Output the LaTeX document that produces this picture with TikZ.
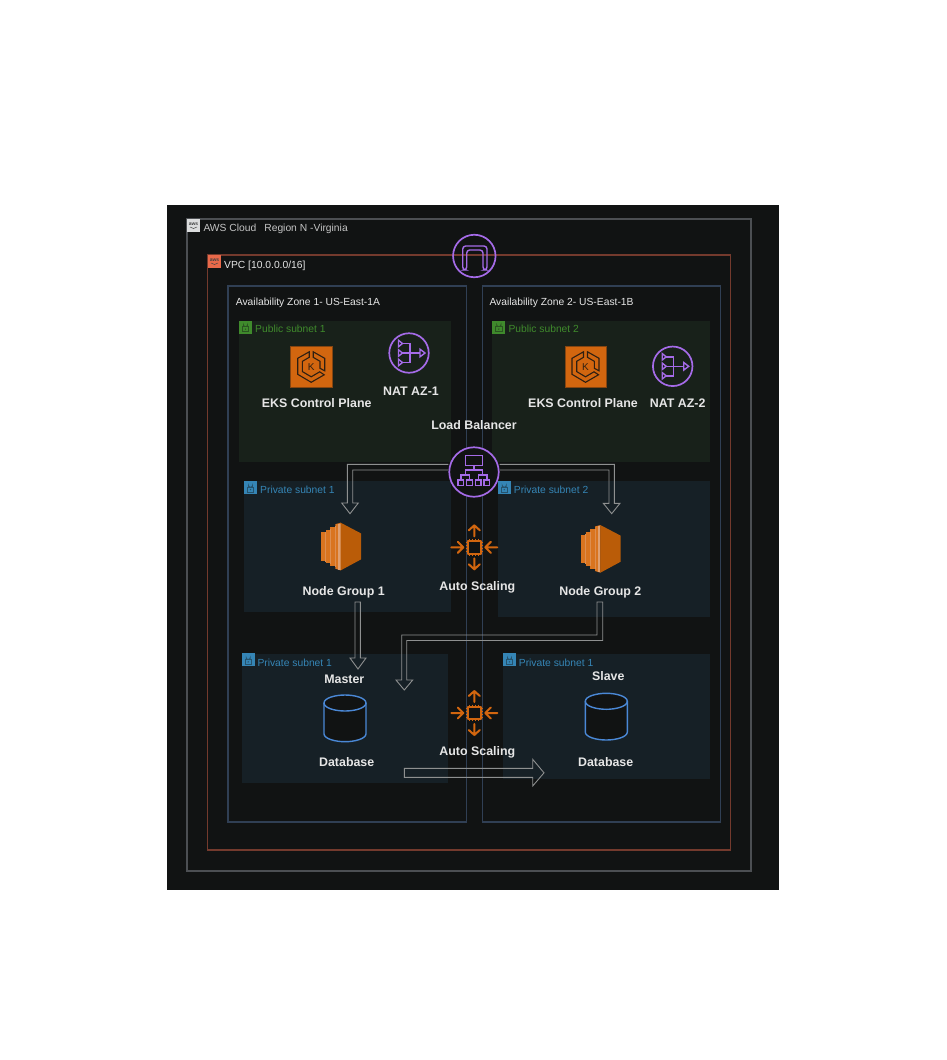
\documentclass[tikz,border=0pt]{standalone}
\usepackage{fontspec}
\setmainfont{Liberation Sans}
\usetikzlibrary{shapes.geometric,calc}
\definecolor{bgdark}{HTML}{111313}
\definecolor{cloudline}{HTML}{4C4F53}
\definecolor{vpcline}{HTML}{743A2D}
\definecolor{azline}{HTML}{303F54}
\definecolor{pubfill}{HTML}{18211A}
\definecolor{privfill}{HTML}{162026}
\definecolor{pubgreen}{HTML}{3F8A2C}
\definecolor{privblue}{HTML}{3585B5}
\definecolor{purp}{HTML}{A56BE8}
\definecolor{orng}{HTML}{D2660F}
\definecolor{ec2main}{HTML}{BA5C08}
\definecolor{ec2strip}{HTML}{D9741F}
\definecolor{ec2light}{HTML}{E0A070}
\definecolor{dbblue}{HTML}{4A88D6}
\definecolor{txtw}{HTML}{E6E6E6}
\definecolor{hollowc}{HTML}{8E9090}
\definecolor{vpcbadge}{HTML}{E8694A}
\tikzset{
  x=1pt,y=-1pt,
  zonebox/.style={draw,line width=1.2pt},
  boldlbl/.style={font=\fontsize{12.4}{14}\selectfont\bfseries,text=txtw,inner sep=0pt,text height=1.6ex,text depth=0.2ex,yshift=-0.6pt},
  smalllbl/.style={font=\fontsize{10.3}{12}\selectfont,inner sep=0pt,anchor=west,text height=1.6ex,text depth=0.2ex},
  purpring/.style={circle,draw=purp,line width=1.7pt,inner sep=0pt},
  purpline/.style={draw=purp,line width=1.4pt},
  hollowarrow/.style={draw=hollowc,line width=0.9pt,line join=miter},
  chipline/.style={draw=orng,line width=2pt,line cap=round,line join=round},
}
\newcommand{\lockbadge}[3]{% x,y,colour
  \fill[#3] (#1,#2) rectangle ++(13,13);
  \draw[bgdark!45!#3,line width=0.7pt] (#1+3.2,#2+6) rectangle ++(6.6,5.2);
  \draw[bgdark!45!#3,line width=0.7pt] (#1+4.4,#2+6) -- (#1+4.4,#2+4) arc[start angle=180,end angle=0,radius=2.1] -- (#1+8.6,#2+6);
  \fill[bgdark!45!#3] (#1+6.5,#2+8.6) circle[radius=0.8];
}
\newcommand{\awsbadge}[3]{% x,y,name
  \node[inner sep=0pt,text=bgdark!80!white,font=\fontsize{5}{5}\selectfont\bfseries] (#3) at (#1+6.5,#2+5) {aws};
  \draw[bgdark!80!white,line width=0.5pt] (#1+3,#2+8) .. controls (#1+5,#2+10) and (#1+8,#2+10) .. (#1+10,#2+8);
}
\newcommand{\ekspic}[1]{%
 \begin{scope}[shift={(#1)}]
  \draw[line width=1.1pt,draw=bgdark!85!orng,line join=miter]
    (-2,-15) -- (-13.5,-8.5) -- (-13.5,7.5) -- (0,15.5) -- (13,8) -- (8.5,5)-- (0,10) -- (-8.8,4.8) -- (-8.8,-5.5) -- (-2,-9.5) -- cycle;
  \draw[line width=1.1pt,draw=bgdark!85!orng,line join=miter]
    (2,-15) -- (13.5,-8.5) -- (13.5,4) -- (8.8,1.5) -- (8.8,-5.5) -- (2,-9.5) -- cycle;
  \node[inner sep=0pt,text=bgdark!85!orng,font=\fontsize{10}{10}\selectfont] at (0,0.3) {K};
 \end{scope}}
\newcommand{\natpic}[1]{%
 \begin{scope}[shift={(#1)}]
  \draw[purpline] (-7,-9.5) -- (1,-9.5) -- (1,9.5) -- (-7,9.5);
  \draw[purpline] (-7,0) -- (11,0);
  \foreach \yy in {-9.5,0,9.5} \draw[purpline,line join=miter] (-10.5,\yy-3.2) -- (-6.5,\yy) -- (-10.5,\yy+3.2) -- cycle;
  \draw[purpline,line join=miter] (11,-3.8) -- (16,0) -- (11,3.8) -- cycle;
 \end{scope}}
\newcommand{\ecpic}[1]{%
 \begin{scope}[shift={(#1)}]
  \fill[ec2strip] (0,9.5) rectangle (4.5,38);
  \fill[ec2strip] (4.5,7) rectangle (9,40.5);
  \fill[ec2strip] (9,4) rectangle (14,43.5);
  \fill[ec2strip] (14,1.5) -- (19.5,0) -- (19.5,47.7) -- (14,46) -- cycle;
  \fill[ec2light!60!ec2strip] (4,9) rectangle (4.8,39);
  \fill[ec2light!60!ec2strip] (8.8,6.5) rectangle (9.6,41);
  \fill[ec2light!60!ec2strip] (13.6,3.5) rectangle (14.4,44);
  \fill[ec2light] (17,0.8) rectangle (19.3,47);
  \fill[ec2main] (19.3,0) -- (39.7,10.7) -- (39.7,36.7) -- (19.3,47.7) -- cycle;
 \end{scope}}
\newcommand{\chippic}[1]{%
 \begin{scope}[shift={(#1)}]
  \draw[chipline] (-6.3,-6.3) rectangle (6.3,6.3);
  \foreach \p in {-4.5,-1.5,1.5,4.5} {
    \draw[draw=orng,line width=1pt] (\p,-8.4)--(\p,-6.3) (\p,6.3)--(\p,8.4) (-8.4,\p)--(-6.3,\p) (6.3,\p)--(8.4,\p);
  }
  \draw[chipline] (0,-11) -- (0,-22) (-5.5,-17) -- (0,-22) -- (5.5,-17);
  \draw[chipline] (0,11) -- (0,22) (-5.5,17) -- (0,22) -- (5.5,17);
  \draw[chipline] (-23,0) -- (-11,0) (-16.5,-5.5) -- (-11,0) -- (-16.5,5.5);
  \draw[chipline] (23,0) -- (11,0) (16.5,-5.5) -- (11,0) -- (16.5,5.5);
 \end{scope}}
\newcommand{\dbpic}[2]{% top-left, height
 \begin{scope}[shift={(#1)}]
  \draw[dbblue,fill=bgdark,line width=1.4pt] (0,8) -- (0,#2-8) .. controls (0,#2-3) and (11,#2) .. (21,#2) .. controls (31,#2) and (42,#2-3) .. (42,#2-8) -- (42,8) .. controls (42,3) and (31,0) .. (21,0) .. controls (11,0) and (0,3) .. (0,8) -- cycle;
  \draw[dbblue,line width=1.4pt] (0,8) .. controls (0,13) and (11,16) .. (21,16) .. controls (31,16) and (42,13) .. (42,8);
 \end{scope}}
\begin{document}
\begin{tikzpicture}
\useasboundingbox (0,0) rectangle (946,1060);
\fill[white] (0,0) rectangle (946,1060);
\fill[bgdark] (167,205) rectangle (779,890);
% containers
\draw[zonebox,cloudline] (187,219) rectangle (751,871);
\draw[zonebox,vpcline] (207.7,255) rectangle (730.7,850);
\draw[zonebox,azline] (228,286) rectangle (466.3,822);
\draw[zonebox,azline] (482.3,286) rectangle (720.3,822);
% subnets
\fill[pubfill] (239,321) rectangle (451,462);
\fill[pubfill] (492.3,321) rectangle (710,462);
\fill[privfill] (244,481) rectangle (451,612);
\fill[privfill] (498,481) rectangle (710,617);
\fill[privfill] (242,653.5) rectangle (448,783);
\fill[privfill] (503,653.5) rectangle (710,779);
% badges
\fill[cloudline!20!white] (187,219) rectangle ++(13,13);
\awsbadge{187}{219}{bcloud}
\fill[vpcbadge] (208,255) rectangle ++(13,13);
\awsbadge{208}{255}{bvpc}
\lockbadge{239}{320.5}{pubgreen}
\lockbadge{492.3}{320.5}{pubgreen}
\lockbadge{244}{481}{privblue}
\lockbadge{497.7}{481}{privblue}
\lockbadge{241.7}{653.3}{privblue}
\lockbadge{503}{653.3}{privblue}
% container labels
\node[smalllbl,text=txtw!85!black] (lcloud) at (203.3,228) {AWS Cloud\hspace{8pt}Region N -Virginia};
\node[smalllbl,text=txtw] (lvpc) at (224,264.7) {VPC [10.0.0.0/16]};
\node[smalllbl,text=txtw] (laz1) at (235.7,301.3) {Availability Zone 1- US-East-1A};
\node[smalllbl,text=txtw] (laz2) at (489.3,301.3) {Availability Zone 2- US-East-1B};
\node[smalllbl,text=pubgreen] (lpub1) at (255,329) {Public subnet 1};
\node[smalllbl,text=pubgreen] (lpub2) at (508.3,329) {Public subnet 2};
\node[smalllbl,text=privblue] (lpriv1) at (260,489.7) {Private subnet 1};
\node[smalllbl,text=privblue] (lpriv2) at (513.7,489.7) {Private subnet 2};
\node[smalllbl,text=privblue] (ldb1) at (257.3,662.3) {Private subnet 1};
\node[smalllbl,text=privblue] (ldb2) at (518.7,662.3) {Private subnet 1};
% gateway
\node[purpring,minimum size=42.5pt] (igw) at (474.3,256) {};
\draw[purpline,rounded corners=3pt] (462.7,270) -- (462.7,246) -- (487,246) -- (487,270) -- (483,270) -- (483,250) -- (466.7,250) -- (466.7,270) -- cycle;
% EKS
\node[fill=orng,draw=bgdark!40!orng,minimum size=41.5pt,inner sep=0pt] (eks1) at (311.2,366.8) {};
\node[fill=orng,draw=bgdark!40!orng,minimum size=41.5pt,inner sep=0pt] (eks2) at (585.5,366.8) {};
\ekspic{311.2,366.8}
\ekspic{585.5,366.8}
\node[boldlbl] (teks1) at (316.7,403) {EKS Control Plane};
\node[boldlbl] (teks2) at (583,403) {EKS Control Plane};
% NAT
\node[purpring,minimum size=39.5pt] (nat1) at (409,353) {};
\node[purpring,minimum size=39.5pt] (nat2) at (672.7,366.3) {};
\natpic{409,353}
\natpic{672.7,366.3}
\node[boldlbl] (tnat1) at (411,391) {NAT AZ-1};
\node[boldlbl] (tnat2) at (677.7,403) {NAT AZ-2};
\node[boldlbl] (tlb) at (474,425.3) {Load Balancer};
% EC2
\coordinate (ec1) at (321.3,522.7);
\coordinate (ec2) at (581,525);
\ecpic{ec1}
\ecpic{ec2}
\node[boldlbl] (ng1) at (343.7,591.3) {Node Group 1};
\node[boldlbl] (ng2) at (600.3,591.3) {Node Group 2};
% autoscaling
\chippic{474.3,547.3}
\chippic{474.3,713}
\node[boldlbl] (as1) at (477.3,586) {Auto Scaling};
\node[boldlbl] (as2) at (477.3,751.5) {Auto Scaling};
% db
\dbpic{324,695}{46.7}
\dbpic{585.3,693.3}{46.7}
\node[boldlbl] (master) at (344.3,679.3) {Master};
\node[boldlbl] (slave) at (608.3,675.7) {Slave};
\node[boldlbl] (db1) at (346.7,762) {Database};
\node[boldlbl] (db2) at (605.7,762) {Database};
% load balancer
\node[purpring,fill=bgdark,minimum size=49.5pt] (lb) at (474,472) {};
\begin{scope}[shift={(lb.center)}]
  \draw[purpline] (-8.7,-16.3) rectangle (8.7,-6.3);
  \draw[purpline] (0,-6.3) -- (0,-2) (-8.7,-2) -- (8.7,-2) (-8.7,-2) -- (-8.7,3) (8.7,-2) -- (8.7,3)
     (-13,8) -- (-13,3) -- (-4.5,3) -- (-4.5,8) (13,8) -- (13,3) -- (4.5,3) -- (4.5,8);
  \foreach \xx in {-16,-7.3,1.3,10} \draw[purpline] (\xx,8) rectangle ++(5.7,5.7);
\end{scope}
% connectors (hollow block arrows)
\coordinate (t1) at (350,513.7);
\coordinate (t2) at (611.7,513.7);
\coordinate (t3) at (358,669);
\coordinate (t4) at (404.3,690);
\draw[hollowarrow] (lb.west |- 0,464.3) -- (347.3,464.3) -- (347.3,503) -- (341.7,503) -- (t1) -- (358.3,503) -- (352.7,503) -- (352.7,470) -- (lb.west |- 0,470);
\draw[hollowarrow] (lb.east |- 0,464.3) -- (614.3,464.3) -- (614.3,503.3) -- (620,503.3) -- (t2) -- (603.3,503.3) -- (609,503.3) -- (609,470) -- (lb.east |- 0,470);
\draw[hollowarrow] (355,602) -- (355,658) -- (350,658) -- (t3) -- (366,658) -- (360.3,658) -- (360.3,602) -- cycle;
\draw[hollowarrow] (597,602) -- (597,635) -- (401.7,635) -- (401.7,680) -- (396,680) -- (t4) -- (412.7,680) -- (406.7,680) -- (406.7,640.5) -- (602.7,640.5) -- (602.7,602) -- cycle;
\draw[hollowarrow] (404.3,768.3) -- (532.7,768.3) -- (532.7,759.3) -- (544,772.8) -- (532.7,786) -- (532.7,777.3) -- (404.3,777.3) -- cycle;
\end{tikzpicture}
\end{document}
